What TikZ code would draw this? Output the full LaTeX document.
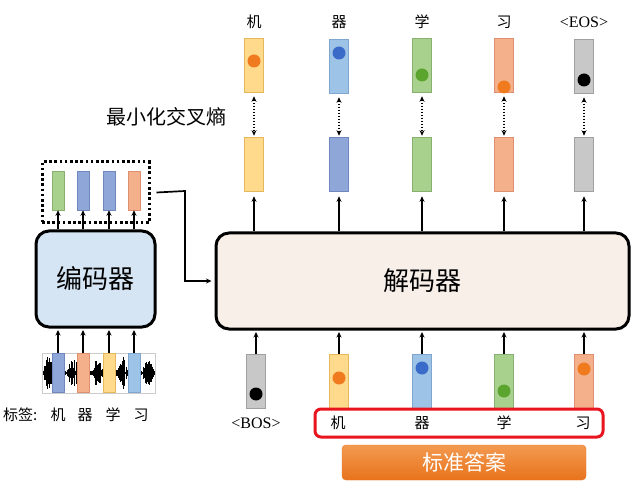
\documentclass[tikz,border=0pt]{standalone}
\usepackage{fontspec}
\setmainfont{Liberation Serif}
\newfontfamily\cjk{Noto Sans CJK SC}
\usetikzlibrary{arrows.meta}
\definecolor{yF}{HTML}{FFD98C}\definecolor{yD}{HTML}{E6B85C}
\definecolor{bF}{HTML}{9DC3E6}\definecolor{bD}{HTML}{7FA6CF}
\definecolor{pF}{HTML}{8FA6D8}\definecolor{pD}{HTML}{7088C0}
\definecolor{gF}{HTML}{A9D18E}\definecolor{gD}{HTML}{88B070}
\definecolor{oF}{HTML}{F4B08A}\definecolor{oD}{HTML}{E09070}
\definecolor{kF}{HTML}{C8C8C8}\definecolor{kD}{HTML}{A0A0A0}
\definecolor{dO}{HTML}{F07A1E}\definecolor{dB}{HTML}{3A6BC8}\definecolor{dG}{HTML}{5BA52E}
\definecolor{encF}{HTML}{D5E5F4}\definecolor{decF}{HTML}{F8EFE9}
\definecolor{redB}{HTML}{E8141E}
\definecolor{ansT}{HTML}{F39A50}\definecolor{ansB}{HTML}{E8731C}
\begin{document}
\begin{tikzpicture}[x=1pt,y=-1pt,
  col/.style={draw=#1D, fill=#1F, line width=0.6pt, minimum width=19pt, minimum height=54pt, inner sep=0pt},
  ecol/.style={draw=#1D, fill=#1F, line width=0.6pt, minimum width=12pt, minimum height=39pt, inner sep=0pt},
  dotc/.style={circle, fill=#1, minimum size=13pt, inner sep=0pt},
  arr/.style={-{Stealth[length=5.5pt,width=5pt]}, line width=1.7pt},
  darr/.style={{Stealth[length=5.5pt,width=5pt]}-{Stealth[length=5.5pt,width=5pt]}, line width=1.6pt, dash pattern=on 1.6pt off 1.4pt},
  lab/.style={font=\cjk\fontsize{15}{15}\selectfont, inner sep=0pt},
  elab/.style={font=\fontsize{16}{16}\selectfont, inner sep=0pt},
  bigbox/.style={draw, line width=3pt, rounded corners=13pt, inner sep=0pt, font=\cjk\fontsize{26}{26}\selectfont}
]
\useasboundingbox (0,0) rectangle (639,486);
\fill[white] (0,0) rectangle (639,486);

% ---------- encoder side ----------
\node[bigbox, fill=encF, minimum width=119pt, minimum height=96pt] (enc) at (95.5,279) {编码器};
\node[draw, line width=3pt, dash pattern=on 2.6pt off 2.6pt, minimum width=107pt, minimum height=61pt, inner sep=0pt] (fitbox) at (95.5,192.5) {};
\node[ecol=g] (e1) at (58,190.5) {};
\node[ecol=p] (e2) at (83,190.5) {};
\node[ecol=p] (e3) at (109,190.5) {};
\node[ecol=o] (e4) at (134,190.5) {};
\foreach \k in {1,...,4} \draw[arr] (enc.north -| e\k) -- (e\k.south);

% waveform
\node[draw=black!20, fill=white, line width=0.6pt, minimum width=113pt, minimum height=40pt, inner sep=0pt] (wave) at (98.5,373) {};
\pgfmathsetseed{3}
\foreach \i in {0,...,170} {
  \pgfmathsetmacro\xx{43.5+\i*0.65}
  \pgfmathsetmacro\env{max(0,sin((\xx-41.75)*14.4))}
  \pgfmathsetmacro\a{0.8+2*rnd+15*rnd*sqrt(\env)*\env}
  \draw[line width=0.55pt] (\xx,373-\a) -- (\xx,373+\a);
}
\node[ecol=p] (w1) at (58,372.5) {};
\node[ecol=o] (w2) at (83,372.5) {};
\node[ecol=y] (w3) at (109,372.5) {};
\node[ecol=b] (w4) at (134,372.5) {};
\foreach \k in {1,...,4} \draw[arr, shorten >=1.5pt] (w\k.north) -- (w\k.north |- enc.south);

\node[lab, anchor=west] (tagl) at (3,415) {标签:};
\node[lab] (t1) at (58,415) {机};
\node[lab] (t2) at (85,415) {器};
\node[lab] (t3) at (113,415) {学};
\node[lab] (t4) at (141,415) {习};

% ---------- decoder ----------
\node[bigbox, fill=decF, minimum width=413pt, minimum height=96pt] (dec) at (422.5,281) {解码器};

\coordinate (turn) at (185,191);
\draw[arr, shorten >=3pt] ([xshift=6pt]fitbox.east) -- (turn) |- (dec.west);

% top labels
\node[lab] (o1) at (254,22) {机};
\node[lab] (o2) at (339,22) {器};
\node[lab] (o3) at (422,22) {学};
\node[lab] (o4) at (504,22) {习};
\node[elab] (o5) at (584,22) {<EOS>};

% upper columns (targets)
\node[col=y] (u1) at (254,65) {};
\node[col=b] (u2) at (339,66) {};
\node[col=g] (u3) at (422,65) {};
\node[col=o] (u4) at (504,65) {};
\node[col=k] (u5) at (584,66) {};
\node[dotc=dO] (ud1) at (254,61) {};
\node[dotc=dB] (ud2) at (339,53) {};
\node[dotc=dG] (ud3) at (422,75) {};
\node[dotc=dO] (ud4) at (504,87) {};
\node[dotc=black] (ud5) at (584,80) {};

% lower columns (outputs)
\node[col=y] (l1) at (254,164) {};
\node[col=p] (l2) at (339,164) {};
\node[col=g] (l3) at (422,164) {};
\node[col=o] (l4) at (504,164) {};
\node[col=k] (l5) at (584,164) {};

\foreach \k in {1,...,5} {
  \draw[darr, shorten <=4pt, shorten >=1pt] (u\k.south) -- (l\k.north);
  \draw[arr, shorten >=5pt] (dec.north -| l\k) -- (l\k.south);
}

\node[font=\cjk\fontsize{20}{20}\selectfont, inner sep=0pt] (ce) at (166,117) {最小化交叉熵};

% bottom inputs
\node[col=k] (b1) at (256,381.5) {};
\node[col=y] (b2) at (339,381.5) {};
\node[col=b] (b3) at (422,381.5) {};
\node[col=g] (b4) at (504,381.5) {};
\node[col=o] (b5) at (584,381.5) {};
\node[dotc=black] (bd1) at (256,394) {};
\node[dotc=dO] (bd2) at (339,378) {};
\node[dotc=dB] (bd3) at (422,368) {};
\node[dotc=dG] (bd4) at (504,391) {};
\node[dotc=dO] (bd5) at (584,369) {};
\foreach \k in {1,...,5} \draw[arr, shorten >=1.5pt] (b\k.north) -- (b\k.north |- dec.south);

\node[elab] (bos) at (256,423) {<BOS>};
\node[draw=redB, line width=3pt, rounded corners=6pt, minimum width=288pt, minimum height=28pt, inner sep=0pt] (gold) at (459,423) {};
\node[lab] (g1) at (338,423) {机};
\node[lab] (g2) at (422,423) {器};
\node[lab] (g3) at (504,423) {学};
\node[lab] (g4) at (583,423) {习};

\node[rounded corners=4pt, top color=ansT, bottom color=ansB, draw=ansB, minimum width=244pt, minimum height=35pt, inner sep=0pt, text=white, font=\cjk\fontsize{21}{21}\selectfont] (ans) at (464,462.5) {标准答案};
\end{tikzpicture}
\end{document}
